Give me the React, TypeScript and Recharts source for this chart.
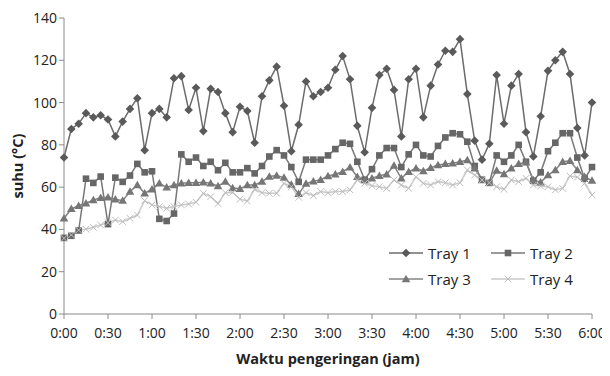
import React from 'react';
import { LineChart, Line, XAxis, YAxis, Label } from 'recharts';

const minutes = Array.from({ length: 73 }, (_, i) => i * 5);

const tray1 = [
  74, 87.5, 90, 95, 93, 94, 92, 84, 91, 97,
  102, 77.5, 95, 97, 93, 111.5, 112.5, 96.5, 107, 86.5,
  106.5, 105, 95, 86, 98, 96, 81, 103, 110.5, 117,
  98.5, 77, 89.5, 110, 103, 105, 107, 115.5, 122, 111,
  89, 76.5, 97.5, 113, 116, 106, 84, 111, 116, 93,
  108, 118, 124.5, 124, 130, 104, 82, 73, 80.5, 113,
  90, 108, 113.5, 86, 74.5, 93.5, 115, 120, 124, 113.5,
  88, 75, 100,
];
const tray2 = [
  36, 37, 39.5, 64, 62, 65, 42.5, 64.5, 62.5, 65.5,
  71, 67, 67.5, 45, 44, 47.5, 75.5, 72, 74, 70,
  72, 68, 71.5, 67, 67, 69, 66.5, 70, 74.5, 77.5,
  75, 69.5, 62.5, 73, 73, 73, 75, 78, 81, 80.5,
  72, 63.5, 68.5, 75, 78.5, 78.5, 69.5, 75.5, 80, 75,
  74.5, 79.5, 83.5, 85.5, 85, 81.5, 70, 63.5, 62, 75,
  72, 75, 80, 72, 63, 67, 77, 81, 85.5, 85.5,
  74, 64, 69.5,
];
const tray3 = [
  45.3, 49.7, 51.2, 52.4, 53.9, 55, 55.2, 54.3, 53.6, 57.9,
  61, 57.1, 59, 61.8, 59.9, 61, 61.8, 62.1, 62.1, 62.3,
  61.8, 60.5, 62.6, 59.6, 59.2, 61, 61, 62.6, 65, 65.5,
  64.5, 61.2, 56.8, 61.7, 62.8, 63.5, 65.3, 66.1, 67.3, 69.4,
  64.9, 63.4, 64.2, 65.4, 66.1, 70.2, 64.2, 67.3, 68.9, 67.6,
  69.2, 70.5, 71, 71.3, 72, 72.8, 68.9, 63.4, 62.1, 67.8,
  66.2, 68.9, 71, 71.8, 63.4, 62.3, 65.7, 68.1, 72, 72.5,
  68.1, 64.9, 63.1,
];
const tray4 = [
  35.8, 37.4, 39.7, 40.1, 41, 42.1, 43.2, 44.5, 43.7, 45.3,
  46.8, 53.6, 51.6, 50.8, 50, 50.8, 51.6, 52, 52.9, 57,
  55.5, 52.2, 57.4, 57.5, 54.3, 53.4, 59, 57.4, 57.1, 57.1,
  61.8, 60.2, 55.2, 57.4, 56, 57.9, 57.4, 57.9, 57.9, 58.7,
  63.4, 61.8, 60.7, 60.2, 59.4, 63.4, 61, 59.4, 64.9, 61.8,
  61, 62.6, 62.1, 61, 62.1, 68.1, 65.7, 63.4, 62.1, 60.2,
  59, 63.4, 62.6, 64.2, 61, 60.5, 60.2, 58.7, 59.4, 65.3,
  64.7, 61.8, 56.3,
];

const xTicks = [0, 30, 60, 90, 120, 150, 180, 210, 240, 270, 300, 330, 360];
const xTickLabels = ['0:00', '0:30', '1:00', '1:30', '2:00', '2:30', '3:00', '3:30', '4:00', '4:30', '5:00', '5:30', '6:00'];
const yTicks = [0, 20, 40, 60, 80, 100, 120, 140];

const data = minutes.map((t, i) => ({ t, tray1: tray1[i], tray2: tray2[i], tray3: tray3[i], tray4: tray4[i] }));

const FONT = '"Open Sans", sans-serif';
const AXIS = '#8a8a8a';

type Shape = 'diamond' | 'square' | 'triangle' | 'cross';

const marker = (shape: Shape, cx: number, cy: number, color: string, key?: string) => {
  if (shape === 'diamond') {
    const r = 4.3;
    return <path key={key} d={`M${cx},${cy - r}L${cx + r},${cy}L${cx},${cy + r}L${cx - r},${cy}Z`} fill={color} />;
  }
  if (shape === 'square') {
    return <rect key={key} x={cx - 3.3} y={cy - 3.3} width={6.6} height={6.6} fill={color} />;
  }
  if (shape === 'triangle') {
    return <path key={key} d={`M${cx},${cy - 4.3}L${cx + 4.3},${cy + 3.2}L${cx - 4.3},${cy + 3.2}Z`} fill={color} />;
  }
  return (
    <path key={key} d={`M${cx - 3.3},${cy - 3.3}L${cx + 3.3},${cy + 3.3}M${cx + 3.3},${cy - 3.3}L${cx - 3.3},${cy + 3.3}`} stroke={color} strokeWidth={1} fill="none" />
  );
};

const dotFor = (shape: Shape, color: string) => (props: any) => {
  const { cx, cy, index } = props;
  if (cx == null || cy == null) return <g key={`e-${shape}-${index}`} />;
  return marker(shape, cx, cy, color, `${shape}-${index}`);
};

const series = [
  { key: 'tray1', name: 'Tray 1', line: '#6c6c6c', mark: '#5a5a5a', shape: 'diamond' as Shape },
  { key: 'tray2', name: 'Tray 2', line: '#787878', mark: '#666666', shape: 'square' as Shape },
  { key: 'tray3', name: 'Tray 3', line: '#848484', mark: '#767676', shape: 'triangle' as Shape },
  { key: 'tray4', name: 'Tray 4', line: '#cacaca', mark: '#bdbdbd', shape: 'cross' as Shape },
];

// legend drawn as an overlay so it doesn't eat plot height
const LegendBox = () => (
  <div
    style={{
      position: 'absolute', left: 381, top: 235,
      display: 'grid', gridTemplateColumns: '102px 90px', rowGap: 6,
      fontFamily: FONT, fontSize: 15, color: '#222',
    }}
  >
    {series.map((s) => (
      <div key={s.key} style={{ display: 'flex', alignItems: 'center', height: 20 }}>
        <svg width={36} height={14} style={{ marginRight: 3 }}>
          <line x1={0} y1={7} x2={34} y2={7} stroke={s.line} strokeWidth={1.5} />
          {marker(s.shape, 17, 7, s.mark)}
        </svg>
        <span>{s.name}</span>
      </div>
    ))}
  </div>
);

const App: React.FC = () => {
  return (
    <div style={{ position: 'relative', width: 602, height: 368, background: '#fff' }}>
      <LineChart width={602} height={368} data={data} margin={{ top: 10, right: 18, bottom: 22, left: 0 }}>
        <XAxis
          dataKey="t"
          type="number"
          domain={[0, 360]}
          ticks={xTicks}
          tickFormatter={(v: number) => xTickLabels[xTicks.indexOf(v)]}
          axisLine={{ stroke: AXIS }}
          tickLine={{ stroke: AXIS }}
          tickSize={5}
          tickMargin={9}
          tick={{ fill: '#222', fontSize: 14, fontFamily: FONT }}
          height={40}
        >
          <Label
            value="Waktu pengeringan (jam)"
            position="bottom"
            offset={0}
            style={{ fill: '#222', fontSize: 14.5, fontWeight: 700, fontFamily: FONT }}
          />
        </XAxis>
        <YAxis
          domain={[0, 140]}
          ticks={yTicks}
          width={56}
          axisLine={{ stroke: AXIS }}
          tickLine={{ stroke: AXIS }}
          tickSize={5}
          tick={{ fill: '#222', fontSize: 14, fontFamily: FONT }}
        >
          <Label
            content={() => (
              <text
                x={9}
                y={158}
                transform="rotate(-90 9 158)"
                textAnchor="middle"
                dominantBaseline="central"
                style={{ fill: '#222', fontSize: 14.5, fontWeight: 700, fontFamily: FONT }}
              >
                suhu (°C)
              </text>
            )}
          />
        </YAxis>
        {series.map((s) => (
          <Line
            key={s.key}
            type="linear"
            dataKey={s.key}
            name={s.name}
            stroke={s.line}
            strokeWidth={1.5}
            dot={dotFor(s.shape, s.mark)}
            activeDot={false}
            isAnimationActive={false}
          />
        ))}
      </LineChart>
      <LegendBox />
    </div>
  );
};

export default App;
